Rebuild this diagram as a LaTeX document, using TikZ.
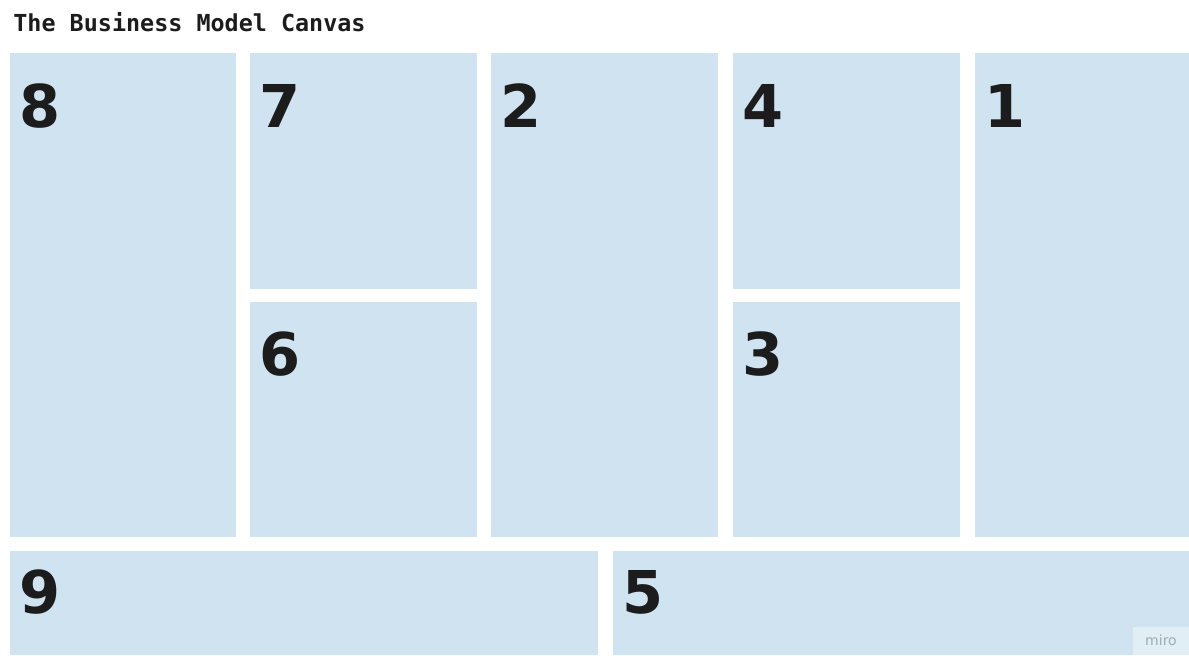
\documentclass[tikz,border=0pt]{standalone}
\usepackage{fontspec}
\setmainfont{DejaVu Sans}
\newfontfamily\monofont{DejaVu Sans Mono}
\definecolor{cellblue}{RGB}{207,227,240}
\definecolor{numblack}{RGB}{28,28,28}
\definecolor{mirogray}{RGB}{160,170,180}
\begin{document}
\begin{tikzpicture}[x=0.5pt, y=-0.5pt,
    cell/.style={fill=cellblue},
    num/.style={anchor=base west, inner sep=0pt, text=numblack,
        font=\fontsize{29.5}{30}\selectfont\bfseries}]
    \useasboundingbox[fill=white] (0,0) rectangle (1189,655);

    % Title
    \node[anchor=base west, inner sep=0pt, text=numblack,
        font=\monofont\fontsize{11.7}{12}\selectfont\bfseries] (title) at (13,31)
        {The Business Model Canvas};

    % Top row
    \fill[cell] (10,53) rectangle (236,537);
    \node[num] (n8) at (19,127) {8};

    \fill[cell] (250,53) rectangle (477,289);
    \node[num] (n7) at (259,127) {7};

    \fill[cell] (250,302) rectangle (477,537);
    \node[num] (n6) at (259,375) {6};

    \fill[cell] (491,53) rectangle (718,537);
    \node[num] (n2) at (500,127) {2};

    \fill[cell] (733,53) rectangle (960,289);
    \node[num] (n4) at (742,127) {4};

    \fill[cell] (733,302) rectangle (960,537);
    \node[num] (n3) at (742,375) {3};

    \fill[cell] (975,53) rectangle (1189,537);
    \node[num] (n1) at (984,127) {1};

    % Bottom row
    \fill[cell] (10,551) rectangle (598,655);
    \node[num] (n9) at (19,613) {9};

    \fill[cell] (613,551) rectangle (1189,655);
    \node[num] (n5) at (622,613) {5};

    % Watermark
    \fill[cellblue!60!white] (1133,627) rectangle (1189,655);
    \node[anchor=base, inner sep=0pt, text=mirogray,
        font=\fontsize{7}{8}\selectfont] (miro) at (1161,645) {miro};
\end{tikzpicture}
\end{document}
